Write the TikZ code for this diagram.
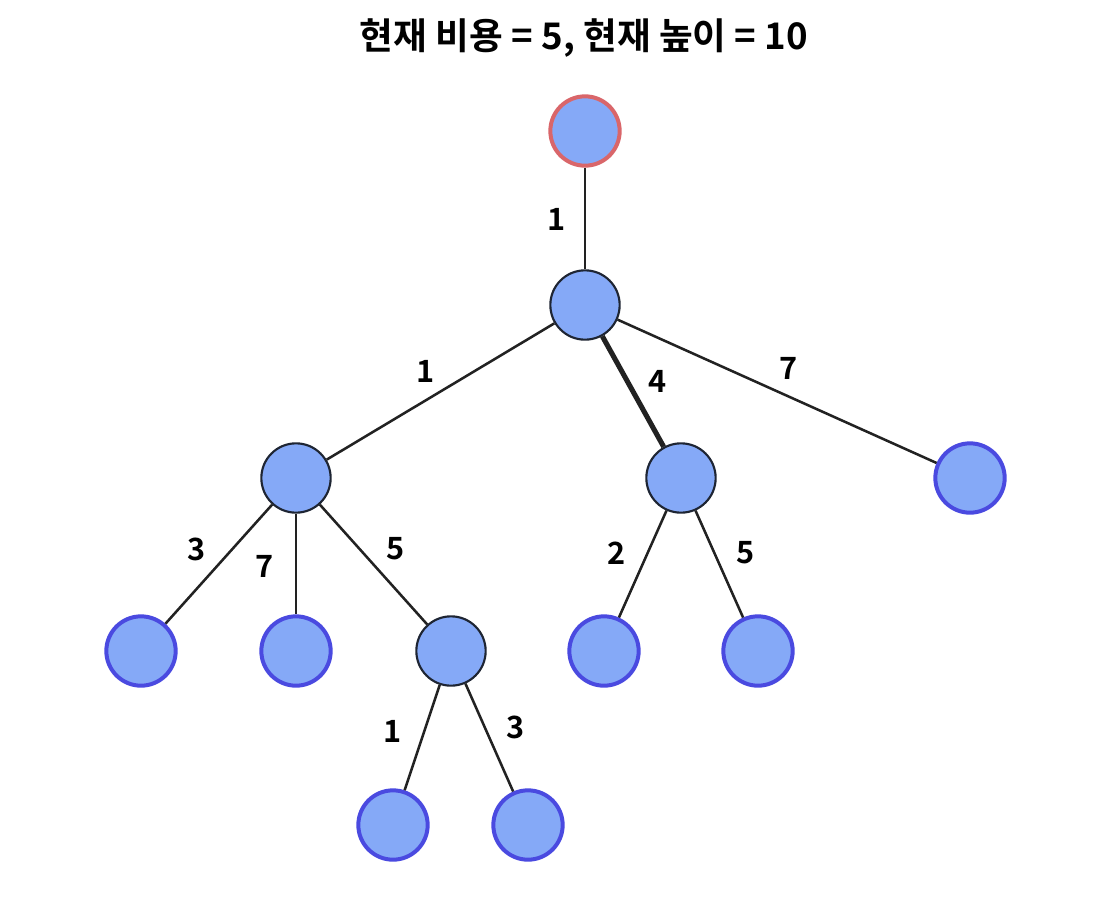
\documentclass[tikz,border=0pt]{standalone}
\usepackage{fontspec}
\setmainfont{Noto Sans CJK KR}[BoldFont={* Bold}]
\newfontfamily\krbold{Noto Sans CJK KR Bold}
\definecolor{nodefill}{HTML}{85A9F7}
\definecolor{bluebd}{HTML}{4A4AE0}
\definecolor{redbd}{HTML}{D9666A}
\definecolor{darkbd}{HTML}{1E2533}
\definecolor{edgec}{HTML}{222222}
\tikzset{
  vtx/.style={circle, fill=nodefill, minimum size=52pt, inner sep=0pt},
  inner/.style={vtx, draw=darkbd, line width=1.6pt},
  leaf/.style={vtx, draw=bluebd, line width=3pt},
  start/.style={vtx, draw=redbd, line width=3pt},
  edge/.style={draw=edgec, line width=1.9pt},
  hot/.style={draw=edgec, line width=3.8pt},
  wlabel/.style={font=\krbold\fontsize{23}{28}\selectfont, text=black, inner sep=0pt},
}
\begin{document}
\begin{tikzpicture}[x=0.75pt, y=-0.75pt]
\useasboundingbox (0,0) rectangle (1096,904);
\node[font=\krbold\fontsize{27.5}{32}\selectfont] (title) at (584,38) {현재 비용 = 5, 현재 높이 = 10};
% nodes
\node[start] (r) at (585,131) {};
\node[inner] (n1) at (585,305) {};
\node[inner] (a) at (296,478) {};
\node[inner] (b) at (681,478) {};
\node[leaf] (c) at (970,478) {};
\node[leaf] (a1) at (141,651) {};
\node[leaf] (a2) at (296,651) {};
\node[inner] (d) at (451,651) {};
\node[leaf] (b1) at (604,651) {};
\node[leaf] (b2) at (758,651) {};
\node[leaf] (d1) at (393,825) {};
\node[leaf] (d2) at (528,825) {};
% edges
\draw[edge] (r) -- (n1);
\draw[edge] (n1) -- (a);
\draw[hot] (n1) -- (b);
\draw[edge] (n1) -- (c);
\draw[edge] (a) -- (a1);
\draw[edge] (a) -- (a2);
\draw[edge] (a) -- (d);
\draw[edge] (b) -- (b1);
\draw[edge] (b) -- (b2);
\draw[edge] (d) -- (d1);
\draw[edge] (d) -- (d2);
% labels
\node[wlabel] (l1) at (557,219) {1};
\node[wlabel] (l2) at (426,371) {1};
\node[wlabel] (l3) at (658,381) {4};
\node[wlabel] (l4) at (789,368) {7};
\node[wlabel] (l5) at (197,549) {3};
\node[wlabel] (l6) at (265,566) {7};
\node[wlabel] (l7) at (396,549) {5};
\node[wlabel] (l8) at (617,553) {2};
\node[wlabel] (l9) at (746,553) {5};
\node[wlabel] (l10) at (393,731) {1};
\node[wlabel] (l11) at (516,727) {3};
\end{tikzpicture}
\end{document}
